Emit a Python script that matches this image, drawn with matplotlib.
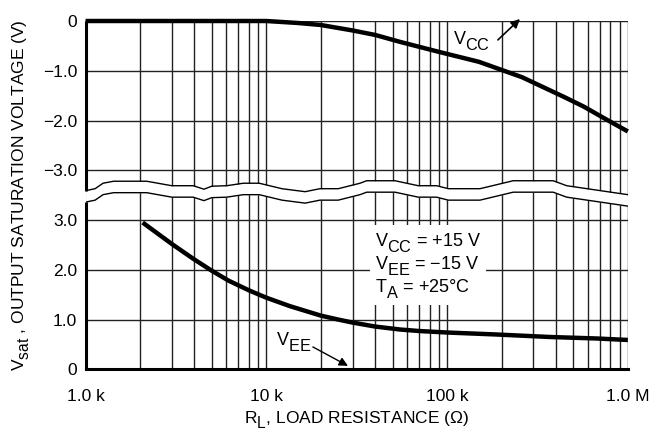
import numpy as np
import matplotlib
matplotlib.use('Agg')
import matplotlib.pyplot as plt
import matplotlib._mathtext as mathtext_mod

plt.rcParams['font.family'] = ['Liberation Sans', 'DejaVu Sans']
plt.rcParams['mathtext.fontset'] = 'custom'
plt.rcParams['mathtext.rm'] = 'Liberation Sans'
plt.rcParams['mathtext.it'] = 'Liberation Sans:italic'
# datasheet style subscripts: nearly full size and dropped low
mathtext_mod.SHRINK_FACTOR = 0.9
mathtext_mod.FontConstantsBase.sub1 = 0.6

# V_CC curve (upper panel, volts, plotted 0 .. -3)
vcc_r = [1e3, 2e3, 5e3, 10e3, 15e3, 20e3, 30e3, 40e3, 55e3, 90e3, 150e3,
         260e3, 440e3, 570e3, 720e3, 1e6]
vcc_v = [0.0, 0.0, 0.0, 0.0, -0.04, -0.08, -0.19, -0.28, -0.42, -0.62, -0.82,
         -1.13, -1.52, -1.72, -1.93, -2.22]

# V_EE curve (lower panel, volts, plotted 0 .. 3)
vee_r = [2.07e3, 3.0e3, 3.95e3, 5.0e3, 6.2e3, 8.1e3, 10e3, 13.5e3, 20e3,
         25e3, 30e3, 40e3, 55e3, 70e3, 100e3, 188e3, 370e3, 671e3, 1e6]
vee_v = [2.95, 2.52, 2.22, 1.98, 1.78, 1.58, 1.44, 1.27, 1.08,
         1.00, 0.94, 0.86, 0.80, 0.77, 0.74, 0.70, 0.65, 0.62, 0.59]

# axis break decoration (upper edge of the wavy band)
brk_r = [1.0e3, 1.13e3, 1.25e3, 1.43e3, 2.18e3, 3.0e3, 3.94e3, 4.52e3, 4.99e3,
         6.04e3, 7.46e3, 9.14e3, 12.2e3, 16.4e3, 19.8e3, 25.0e3, 33.0e3, 35.9e3,
         51.5e3, 69.3e3, 87.5e3, 101.6e3, 152e3, 232e3, 386e3, 459e3, 1e6]
brk_p = [3.59, 3.63, 3.74, 3.78, 3.78, 3.69, 3.69, 3.62, 3.68,
         3.69, 3.74, 3.74, 3.63, 3.57, 3.63, 3.63, 3.74, 3.79,
         3.79, 3.69, 3.69, 3.63, 3.63, 3.79, 3.79, 3.69, 3.51]
brk_gap = 0.23

# upper panel values sit at position 7 + v, lower panel at position v
ytick_pos = [0, 1, 2, 3, 4, 5, 6, 7]
ytick_lbl = ['0', '1.0', '2.0', '3.0', '\u22123.0', '\u22122.0', '\u22121.0', '0']
xtick_pos = [1e3, 1e4, 1e5, 1e6]
xtick_lbl = ['1.0 k', '10 k', '100 k', '1.0 M']

fig = plt.figure(figsize=(6.63, 4.34), dpi=100)
ax = fig.add_axes([0.129, 0.149, 0.818, 0.8026])
ax.set_xscale('log')
ax.set_xlim(1e3, 1e6)
ax.set_ylim(0, 7)

grid_c = '#222222'
for r in [m * 10 ** e for e in (3, 4, 5) for m in range(1, 10)] + [1e6]:
    ax.axvline(r, color=grid_c, lw=1.0, zorder=1)
for p in ytick_pos:
    ax.axhline(p, color=grid_c, lw=1.0, zorder=1)

ax.set_xticks(xtick_pos)
ax.set_xticklabels(xtick_lbl)
ax.set_xticks([], minor=True)
ax.set_yticks(ytick_pos)
ax.set_yticklabels(ytick_lbl)
ax.tick_params(length=0, labelsize=12.5)
ax.tick_params(axis='x', pad=14)
ax.tick_params(axis='y', pad=6)

for s in ['left', 'top', 'right']:
    ax.spines[s].set_visible(False)
ax.spines['bottom'].set_linewidth(2.2)

# left border, broken by the band
brk_lo = np.array(brk_p) - brk_gap
ax.plot([1e3, 1e3], [0, brk_lo[0]], color='black', lw=2.2, clip_on=False, zorder=5,
        solid_capstyle='butt')
ax.plot([1e3, 1e3], [brk_p[0], 7], color='black', lw=2.2, clip_on=False, zorder=5,
        solid_capstyle='butt')

ax.fill_between(brk_r, brk_lo, brk_p, color='white', zorder=3, lw=0)
ax.plot(brk_r, brk_p, color='black', lw=1.0, zorder=4)
ax.plot(brk_r, brk_lo, color='black', lw=1.0, zorder=4)

ax.plot(vcc_r, 7 + np.array(vcc_v), color='black', lw=3.2, zorder=6,
        clip_on=False, solid_capstyle='butt')
ax.plot(vee_r, vee_v, color='black', lw=3.2, zorder=6, solid_capstyle='butt')

# labels on the curves
ax.text(108e3, 6.6, r'V$_{\mathrm{CC}}$', fontsize=13, ha='left', va='center', zorder=7)
ax.annotate('', xy=(253e3, 7.04), xytext=(191e3, 6.62),
            arrowprops=dict(arrowstyle='-|>', color='black', lw=1.2,
                            mutation_scale=13, shrinkA=0, shrinkB=0),
            annotation_clip=False, zorder=7)
ax.text(11.3e3, 0.55, r'V$_{\mathrm{EE}}$', fontsize=13, ha='left', va='center', zorder=7)
ax.annotate('', xy=(28.3e3, 0.07), xytext=(18.1e3, 0.45),
            arrowprops=dict(arrowstyle='-|>', color='black', lw=1.0,
                            mutation_scale=13, shrinkA=0, shrinkB=0),
            zorder=7)

ax.text(39.9e3, 2.09,
        'V$_{\\mathrm{CC}}$ = +15 V\nV$_{\\mathrm{EE}}$ = \u221215 V\nT$_{\\mathrm{A}}$ = +25\u00b0C',
        fontsize=13, ha='left', va='center', linespacing=1.0, zorder=7,
        bbox=dict(boxstyle='square,pad=0.3', facecolor='white', edgecolor='none'))

ax.set_ylabel(r'V$_{\mathrm{sat}}$ , OUTPUT SATURATION VOLTAGE (V)', fontsize=12.5, labelpad=8)
ax.set_xlabel(r'R$_{\mathrm{L}}$, LOAD RESISTANCE ($\Omega$)', fontsize=12.5, labelpad=4)

fig.savefig('out.png', dpi=100)
